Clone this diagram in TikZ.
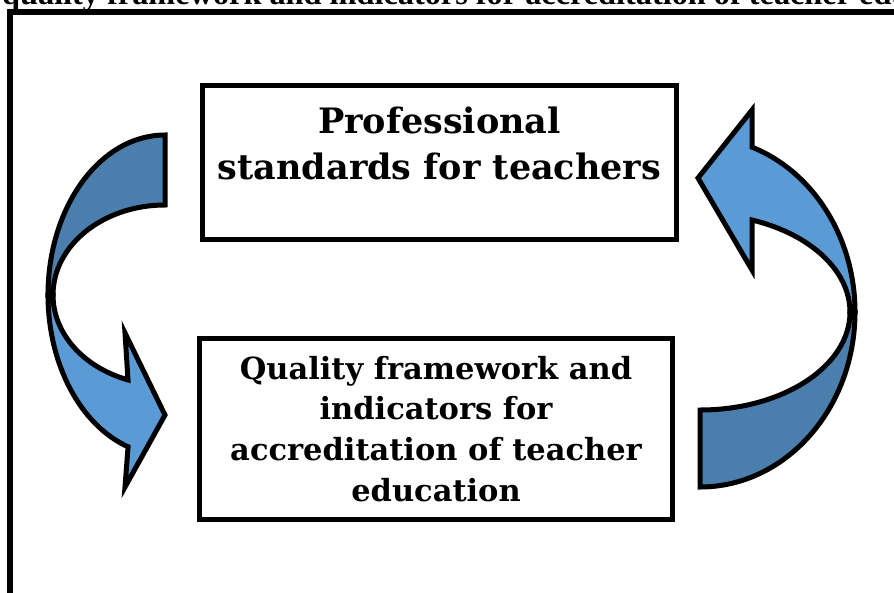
\documentclass[tikz,border=0pt]{standalone}
\usepackage{fontspec}
\newfontfamily\boxfont{DejaVu Serif}
\newfontfamily\capfont{Liberation Serif}
\usetikzlibrary{positioning}
\definecolor{arrowlight}{RGB}{91,155,213}
\definecolor{arrowdark}{RGB}{74,126,172}

\begin{document}
\begin{tikzpicture}[x=1pt, y=1pt,
  box/.style={draw=black, line width=5pt, fill=white, inner sep=0pt, align=center},
  bigtext/.style={align=center, inner sep=0pt, font=\boxfont\bfseries\fontsize{35}{46}\selectfont},
  smalltext/.style={font=\boxfont\bfseries\fontsize{30.5}{40.8}\selectfont},
  curl/.style={draw=black, line width=5pt, line join=miter}]
\useasboundingbox (0,0) rectangle (894,-592);
\clip (0,0) rectangle (894,-592);
\fill[white] (0,0) rectangle (894,-592);
\node[anchor=base west, inner sep=0pt, font=\capfont\bfseries\fontsize{32.3}{40}\selectfont] (caption) at (2,-4) {quality framework and indicators for accreditation of teacher education};
\draw[line width=5.5pt] (10,-600) -- (10,-12) -- (900,-12);

\node[box, minimum width=474pt, minimum height=154pt] (standards) at (439.5,-162.5) {};
\node[bigtext, below=24pt of standards.north] (standardstext) {Professional\\standards for teachers};
\node[box, smalltext, minimum width=473pt, minimum height=181pt] (quality) at (436,-429) {Quality framework and\\indicators for\\accreditation of teacher\\education};

\draw[curl, fill=arrowdark] (165,-135) arc[start angle=90, end angle=180, x radius=117, y radius=160]
  -- (53,-295) arc[start angle=180, end angle=90, x radius=112, y radius=90] -- cycle;
\draw[curl, fill=arrowlight] (48,-295) arc[start angle=180, end angle=251.6, x radius=117, y radius=160]
  -- (125,-487) -- (165,-415) -- (125,-333) -- (128,-379.9)
  arc[start angle=250.7, end angle=180, x radius=112, y radius=90] -- cycle;

\draw[curl, fill=arrowdark] (700,-487) arc[start angle=270, end angle=360, x radius=155, y radius=175]
  -- (850,-312) arc[start angle=360, end angle=270, x radius=150, y radius=98] -- cycle;
\draw[curl, fill=arrowlight] (855,-312) arc[start angle=0, end angle=70.4, x radius=155, y radius=175]
  -- (752,-110) -- (698,-178) -- (752,-270) -- (752,-220)
  arc[start angle=69.7, end angle=0, x radius=150, y radius=98] -- cycle;
\end{tikzpicture}
\end{document}
